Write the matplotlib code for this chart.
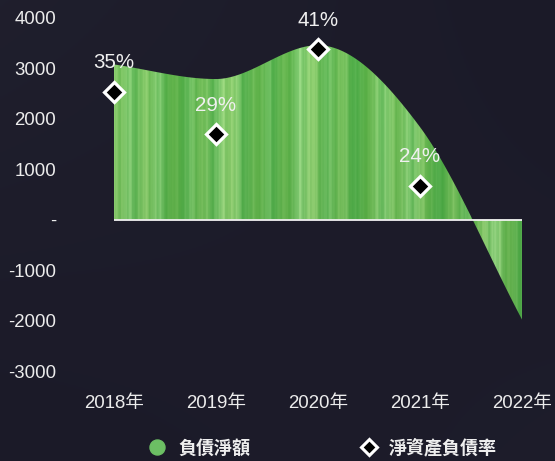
import numpy as np
import matplotlib
matplotlib.use('Agg')
import matplotlib.pyplot as plt
from matplotlib.lines import Line2D

# ---- data ----
years = ['2018年', '2019年', '2020年', '2021年', '2022年']
net_debt = [3080, 2790, 3460, 1840, -1980]          # 負債淨額
rate_values = [35.0, 29.0, 41.0, 21.7]              # 淨資產負債率 (marker positions)
rate_labels = ['35%', '29%', '41%', '24%']
y_ticks = [-3000, -2000, -1000, 0, 1000, 2000, 3000, 4000]
y_tick_labels = ['-3000', '-2000', '-1000', '-', '1000', '2000', '3000', '4000']

FONT = ['Liberation Sans', 'Noto Sans CJK TC', 'DejaVu Sans']
CJK = ['Noto Sans CJK TC', 'DejaVu Sans']
plt.rcParams['font.family'] = FONT
FS = 13.4

W, H = 555, 461
fig = plt.figure(figsize=(W / 100, H / 100), dpi=100)
fig.patch.set_facecolor('#1c1b29')

# subtle background gradient
bg = fig.add_axes([0, 0, 1, 1], zorder=-10)
gx, gy = np.meshgrid(np.linspace(0, 1, 200), np.linspace(0, 1, 200))
g = np.clip(0.6 * (1 - gx) * gy + 0.3 * gx * (1 - gy), 0, 1)
c0 = np.array([0.106, 0.102, 0.157])
c1 = np.array([0.135, 0.135, 0.190])
bgimg = c0[None, None, :] * (1 - g[..., None]) + c1[None, None, :] * g[..., None]
bg.imshow(bgimg, extent=[0, 1, 0, 1], origin='lower', aspect='auto')
bg.axis('off')

left, right, top, bottom = 113.7, 522, 18, 371
ax = fig.add_axes([left / W, (H - bottom) / H, (right - left) / W, (bottom - top) / H])
ax.set_facecolor('none')
x = np.arange(len(years))
ax.set_xlim(0, len(years) - 1)
ax.set_ylim(-3000, 4000)


def monotone(xs, ys, n=400):
    xs = np.asarray(xs, float); ys = np.asarray(ys, float)
    d = np.diff(ys) / np.diff(xs)
    m = np.zeros_like(ys)
    m[0], m[-1] = d[0], d[-1]
    for i in range(1, len(ys) - 1):
        m[i] = 0 if d[i - 1] * d[i] <= 0 else (d[i - 1] + d[i]) / 2
    for i in range(len(d)):
        if d[i] == 0:
            m[i] = m[i + 1] = 0
        else:
            a, b = m[i] / d[i], m[i + 1] / d[i]
            s = a * a + b * b
            if s > 9:
                t = 3 / np.sqrt(s)
                m[i], m[i + 1] = t * a * d[i], t * b * d[i]
    xx = np.linspace(xs[0], xs[-1], n)
    yy = np.empty_like(xx)
    for j, xv in enumerate(xx):
        i = min(np.searchsorted(xs, xv, side='right') - 1, len(xs) - 2)
        h = xs[i + 1] - xs[i]
        t = (xv - xs[i]) / h
        yy[j] = ((2 * t**3 - 3 * t**2 + 1) * ys[i] + (t**3 - 2 * t**2 + t) * h * m[i]
                 + (-2 * t**3 + 3 * t**2) * ys[i + 1] + (t**3 - t**2) * h * m[i + 1])
    return xx, yy


xx, yy = monotone(x, net_debt)
poly = ax.fill_between(xx, 0, yy, facecolor='none', edgecolor='none', zorder=1)

# textured green fill
cols = 900
t = np.linspace(0, 4, cols)
s = (0.35 * np.sin(t * 7.3) + 0.25 * np.sin(t * 17.1 + 1) + 0.2 * np.sin(t * 41.7 + 2)
     + 0.15 * np.sin(t * 83.3 + 0.5) + 0.12 * np.sin(t * 151 + 3) + 0.08 * np.sin(t * 263 + 1.3))
s = (s - s.min()) / (s.max() - s.min())
s = s ** 1.8
yel = 0.5 + 0.5 * np.sin(t * 23.0 + 0.7)
base = np.array([0.28, 0.65, 0.26])
light = np.array([0.64, 0.87, 0.55])
yellow = np.array([0.58, 0.76, 0.30])
row = base[None, :] * (1 - s[:, None]) + light[None, :] * s[:, None]
row = row * (1 - 0.22 * yel[:, None]) + yellow[None, :] * 0.22 * yel[:, None]
img = np.repeat(row[None, :, :], 60, axis=0)
vert = np.linspace(0.96, 1.03, 60)[:, None, None]
img = np.clip(img * vert, 0, 1)
im = ax.imshow(img, extent=[0, 4, -3000, 4000], origin='lower', aspect='auto',
               interpolation='bilinear', zorder=1)
im.set_clip_path(poly.get_paths()[0], transform=ax.transData)

ax.plot([0, 4], [0, 0], color='#f2f2f2', lw=1.3, zorder=2)

ax.set_yticks(y_ticks)
ax.set_yticklabels(y_tick_labels)
ax.set_xticks(x)
ax.set_xticklabels(years, fontfamily=FONT)
ax.tick_params(axis='y', length=0, pad=41.5, labelsize=FS, labelcolor='#ececec')
ax.tick_params(axis='x', length=0, pad=17, labelsize=FS, labelcolor='#ececec')
for lab in ax.get_yticklabels():
    lab.set_horizontalalignment('right')
for sp in ax.spines.values():
    sp.set_visible(False)

# secondary axis for rate
ax2 = ax.twinx()
ax2.set_ylim(-4.47, 45.4)
ax2.axis('off')
xr = np.arange(len(rate_values))
ax2.plot(xr, rate_values, ls='none', marker='D', ms=10.5, mfc='black', mec='white',
         mew=2.3, zorder=5, clip_on=False)
for xi, v, lab in zip(xr, rate_values, rate_labels):
    ax2.annotate(lab, (xi, v), xytext=(0, 29), textcoords='offset pixels', ha='center',
                 va='center', color='#f0f0f0', fontsize=14.8, zorder=6)

# legend
fig.add_artist(Line2D([157 / W], [1 - 447 / H], transform=fig.transFigure, marker='o',
                      ms=10.8, mfc='#6cbf64', mec='#6cbf64', ls='none'))
fig.text(178 / W, 1 - 448 / H, '負債淨額', color='#eeeeee', fontsize=13, va='center',
         ha='left', fontfamily=CJK, fontweight='bold')
fig.add_artist(Line2D([369 / W], [1 - 447 / H], transform=fig.transFigure, marker='D',
                      ms=8.5, mfc='black', mec='white', mew=2.2, ls='none'))
fig.text(389 / W, 1 - 448 / H, '淨資產負債率', color='#eeeeee', fontsize=13, va='center',
         ha='left', fontfamily=CJK, fontweight='bold')

fig.savefig('out.png', dpi=100, facecolor=fig.get_facecolor())
